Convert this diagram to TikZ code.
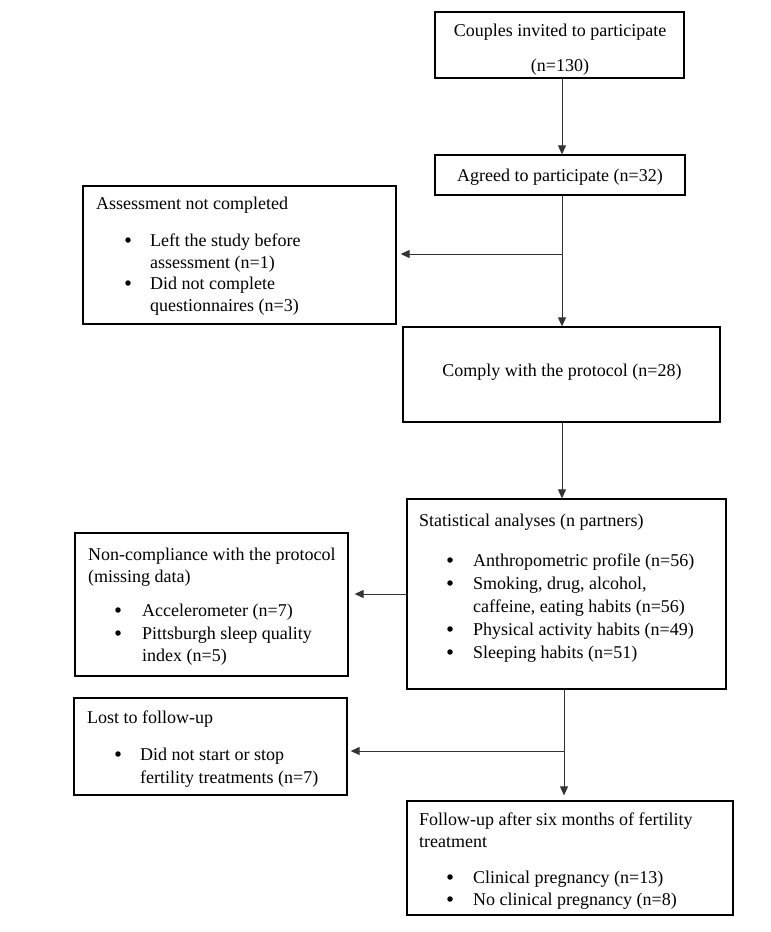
\documentclass[tikz,border=0pt]{standalone}
\usepackage{fontspec}
\setmainfont{Liberation Serif}
\usetikzlibrary{arrows.meta}
\newcommand\tline[4]{\node[txt] (#1) at (#2,#3) {#4};}
\newcommand\tbul[5]{\node[bul] (#1b) at (#2,#4-6) {};\node[txt] (#1) at (#3,#4) {#5};}
\begin{document}
\begin{tikzpicture}[x=1pt,y=-1pt,
  font=\fontsize{18}{22}\selectfont,
  box/.style={draw=black,line width=1.3pt,inner sep=0pt,rectangle},
  txt/.style={anchor=base west,inner sep=0pt},
  ctxt/.style={anchor=base,inner sep=0pt},
  bul/.style={circle,fill=black,inner sep=0pt,minimum size=5.5pt},
  arr/.style={draw=black!80,line width=0.9pt,-{Triangle[length=9pt,width=8pt]}},
  ln/.style={draw=black!80,line width=0.9pt}]
\useasboundingbox (0,0) rectangle (771,932);
\fill[white] (0,0) rectangle (771,932);
% boxes
\node[box,minimum width=249pt,minimum height=66pt] (b1) at (559.5,45) {};
\node[box,minimum width=250pt,minimum height=40pt] (b2) at (560,175) {};
\node[box,minimum width=313pt,minimum height=138pt] (b3) at (239.5,255) {};
\node[box,minimum width=317pt,minimum height=95pt] (b4) at (561.5,374.5) {};
\node[box,minimum width=319pt,minimum height=190pt] (b5) at (566.5,594) {};
\node[box,minimum width=273pt,minimum height=143pt] (b6) at (211.5,604.5) {};
\node[box,minimum width=273pt,minimum height=97pt] (b7) at (210.5,746.5) {};
\node[box,minimum width=326pt,minimum height=114pt] (b8) at (570,858) {};
% texts
\node[ctxt] (t1a) at (560,36) {Couples invited to participate};
\node[ctxt] (t1b) at (560,71) {(n=130)};
\node[ctxt] (t2) at (560,181) {Agreed to participate (n=32)};
\tline{t3}{96}{209}{Assessment not completed}
\tbul{t3a}{128}{150}{246}{Left the study before}
\tline{t3b}{150}{268}{assessment (n=1)}
\tbul{t3c}{128}{150}{289}{Did not complete}
\tline{t3d}{150}{311}{questionnaires (n=3)}
\node[ctxt] (t4) at (562,376) {Comply with the protocol (n=28)};
\tline{t5}{419}{526}{Statistical analyses (n partners)}
\tbul{t5a}{450}{473}{566}{Anthropometric profile (n=56)}
\tbul{t5b}{450}{473}{589}{Smoking, drug, alcohol,}
\tline{t5c}{473}{612}{caffeine, eating habits (n=56)}
\tbul{t5d}{450}{473}{635}{Physical activity habits (n=49)}
\tbul{t5e}{450}{473}{658}{Sleeping habits (n=51)}
\tline{t6}{88}{560}{Non-compliance with the protocol}
\tline{t6a}{88}{582}{(missing data)}
\tbul{t6b}{118}{142}{616}{Accelerometer (n=7)}
\tbul{t6c}{118}{142}{639}{Pittsburgh sleep quality}
\tline{t6d}{142}{661}{index (n=5)}
\tline{t7}{87}{723}{Lost to follow-up}
\tbul{t7a}{118}{140}{760}{Did not start or stop}
\tline{t7b}{140}{783}{fertility treatments (n=7)}
\tline{t8}{419}{825}{Follow-up after six months of fertility}
\tline{t8a}{419}{847}{treatment}
\tbul{t8b}{450}{473}{883}{Clinical pregnancy (n=13)}
\tbul{t8c}{450}{473}{905}{No clinical pregnancy (n=8)}
% connectors
\coordinate (x1) at (562,0);
\coordinate (x2) at (564,0);
\draw[arr] (b1.south -| x1) -- (b2.north -| x1);
\draw[arr] (b2.south -| x1) -- (b4.north -| x1);
\coordinate (j1) at (562,254);
\draw[arr,shorten >=4pt] (j1) -- (j1 -| b3.east);
\draw[arr] (b4.south -| x1) -- (b5.north -| x1);
\coordinate (j2) at (407,594);
\draw[arr,shorten >=6pt] (j2) -- (j2 -| b6.east);
\draw[arr,shorten >=5pt] (b5.south -| x2) -- (b8.north -| x2);
\coordinate (j3) at (564,751);
\draw[arr,shorten >=3pt] (j3) -- (j3 -| b7.east);
\end{tikzpicture}
\end{document}
